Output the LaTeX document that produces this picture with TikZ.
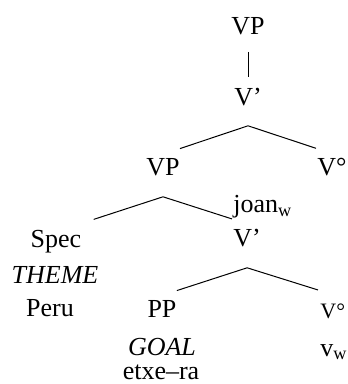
\documentclass[tikz,border=0pt]{standalone}
\usepackage{amsmath}
\usepackage{fontspec}
\setmainfont{Liberation Serif}
\usetikzlibrary{calc}

\begin{document}
\begin{tikzpicture}[x=0.5pt,y=-0.5pt]
	\tikzstyle{cat} = [
	inner sep=0pt,
	anchor=base,
	font=\fontsize{13}{16}\selectfont
	]
	\tikzstyle{head} = [cat, anchor=base west]
	\tikzstyle{smallhead} = [head, font=\fontsize{11}{13}\selectfont]
	\tikzstyle{branch} = [line width=.5pt]
	\useasboundingbox (0,0) rectangle (347,384);
	
	\node[cat] (vp) at (248,35) {VP};
	\node[cat] (vbar) at (248,106) {V'};
	\node[cat] (vpin) at (163,176) {VP};
	\node[head] (vhigh) at (317,176) {V°};
	\node[head] (joan) at (233,213) {joan$_{\text{w}}$};
	\node[cat] (spec) at (56,247) {Spec};
	\node[head] (vbarin) at (233,246) {V'};
	\node[cat] (theme) at (55,283) {\itshape THEME};
	\node[cat] (peru) at (50,316) {Peru};
	\node[cat] (pp) at (162,317) {PP};
	\node[smallhead] (vlow) at (320,318) {V°};
	\node[cat] (goal) at (162,355) {\itshape GOAL};
	\node[head] (vw) at (320,356) {v$_{\text{w}}$};
	\node[cat] (etxe) at (161,379) {etxe--ra};
	
	\coordinate (top) at ([yshift=-9.5pt]vbar.south);
	\coordinate (mid) at ([yshift=-10pt]vpin.south);
	\coordinate (low) at ([yshift=-10.5pt]vbarin.south);
	
	\draw[branch, shorten <=8pt, shorten >=5.5pt] (vp.south) -- (vbar.north);
	\draw[branch] ([yshift=5pt]vpin.north east) -- (top) -- ([shift={(-.5pt,5pt)}]vhigh.north west);
	\draw[branch] ([shift={(6pt,5pt)}]spec.north east) -- (mid) -- ([xshift=-.5pt]joan.south west);
	\draw[branch] ([yshift=4.5pt]pp.north east) -- (low) -- ([shift={(-1pt,6.5pt)}]vlow.north west);
\end{tikzpicture}
\end{document}
